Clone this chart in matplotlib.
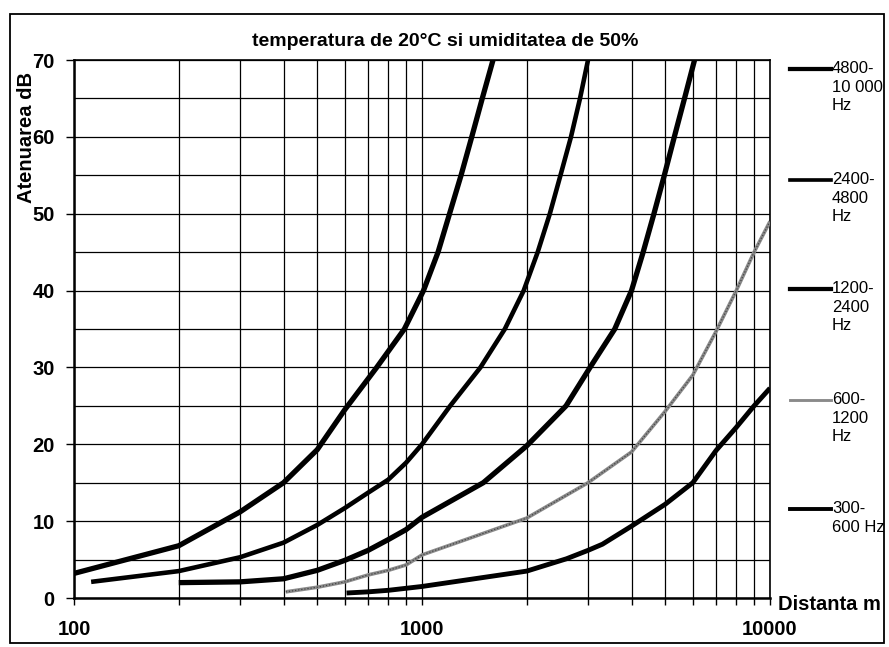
import numpy as np
import matplotlib
matplotlib.use('Agg')
import matplotlib.pyplot as plt
from matplotlib.lines import Line2D
from matplotlib.patches import Rectangle
from matplotlib.ticker import LogLocator, FixedLocator, NullFormatter, FixedFormatter

plt.rcParams['font.family'] = ['Liberation Sans', 'DejaVu Sans']

# attenuation curves (distance in m, attenuation in dB), one per frequency band
dist_4800 = [100, 200, 300, 400, 500, 600, 741, 890, 1010, 1112, 1200, 1295, 1390, 1490, 1600]
att_4800 = [3.2, 6.8, 11.2, 15.0, 19.3, 24.5, 30, 35, 40, 45, 50, 55, 60, 65, 70]

dist_2400 = [112, 200, 300, 400, 500, 600, 700, 800, 900, 1000, 1205, 1472, 1730, 1960, 2150,
             2330, 2500, 2680, 2845, 3000]
att_2400 = [2.1, 3.5, 5.3, 7.2, 9.5, 11.7, 13.7, 15.4, 17.6, 20.0, 25, 30, 35, 40, 45,
            50, 55, 60, 65, 70]

dist_1200 = [200, 300, 400, 500, 600, 700, 800, 900, 1000, 1500, 2000, 2594, 3040, 3580, 4000,
             4320, 4640, 4970, 5310, 5680, 6070]
att_1200 = [2.0, 2.1, 2.5, 3.6, 4.9, 6.2, 7.6, 8.9, 10.5, 15.0, 19.8, 25, 30, 35, 40,
            45, 50, 55, 60, 65, 70]

dist_600 = [406, 500, 600, 700, 800, 900, 1000, 2000, 3000, 4000, 5000, 6000, 7000, 8000, 9000, 10000]
att_600 = [0.8, 1.4, 2.1, 3.0, 3.6, 4.3, 5.6, 10.4, 15.0, 19.0, 24.3, 29.0, 34.7, 40, 45, 49]

dist_300 = [607, 700, 800, 1000, 2000, 2600, 3000, 3300, 4000, 5000, 6000, 7000, 8000, 9000, 10000]
att_300 = [0.65, 0.8, 1.0, 1.5, 3.5, 5.1, 6.2, 7.0, 9.35, 12.2, 15.0, 19.2, 22.2, 25.0, 27.3]

band_labels = ['4800-\n10 000\nHz', '2400-\n4800\nHz', '1200-\n2400\nHz', '600-\n1200\nHz', '300-\n600 Hz']
x_ticks = [100, 1000, 10000]
x_tick_labels = ['100', '1000', '10000']
y_ticks = [0, 10, 20, 30, 40, 50, 60, 70]

W, H = 889, 647
fig = plt.figure(figsize=(W / 100, H / 100), dpi=100)
ax = fig.add_axes([74 / W, 1 - 598 / H, (770 - 74) / W, (598 - 60) / H])

series = [
    (dist_4800, att_4800, dict(color='black', lw=3.8)),
    (dist_2400, att_2400, dict(color='black', lw=3.3)),
    (dist_1200, att_1200, dict(color='black', lw=3.8)),
    (dist_600, att_600, dict(color='#8a8a8a', lw=2.6)),
    (dist_300, att_300, dict(color='black', lw=3.5)),
]
for xs, ys, st in series:
    ax.plot(xs, ys, solid_capstyle='butt', solid_joinstyle='round', zorder=3, **st)
# speckled texture on the grey curve
ax.plot(dist_600, att_600, color='#444444', lw=0.9, ls=(0, (1, 1.5)), zorder=4)

ax.set_xscale('log')
ax.set_xlim(100, 10000)
ax.set_ylim(0, 70)

# grid: every decade step and every 5 dB
ax.xaxis.set_major_locator(FixedLocator(x_ticks))
ax.xaxis.set_major_formatter(FixedFormatter(x_tick_labels))
ax.xaxis.set_minor_locator(LogLocator(base=10, subs=np.arange(2, 10)))
ax.xaxis.set_minor_formatter(NullFormatter())
ax.set_yticks(y_ticks)
ax.set_yticks(np.arange(5, 70, 10), minor=True)
ax.grid(True, which='both', axis='x', color='black', lw=0.9)
ax.grid(True, which='both', axis='y', color='black', lw=0.9)
ax.set_axisbelow(True)

ax.tick_params(axis='x', which='both', direction='out', length=5, width=1, pad=11,
               labelsize=14.5)
ax.tick_params(axis='y', which='major', direction='out', length=6, width=1, pad=8,
               labelsize=14.5)
ax.tick_params(axis='y', which='minor', length=0)
for lbl in ax.get_xticklabels() + ax.get_yticklabels():
    lbl.set_fontweight('bold')

for sp in ax.spines.values():
    sp.set_linewidth(1.2)
ax.spines['left'].set_linewidth(1.8)
ax.spines['bottom'].set_linewidth(1.8)

fig.text(445 / W, 1 - 42 / H, 'temperatura de 20°C si umiditatea de 50%',
         ha='center', va='center', fontsize=14, fontweight='bold')
fig.text(27 / W, 1 - 137 / H, 'Atenuarea dB', rotation=90, ha='center', va='center',
         fontsize=14.5, fontweight='bold')
fig.text(778 / W, 1 - 605 / H, 'Distanta m', ha='left', va='center',
         fontsize=14.5, fontweight='bold')

# legend drawn at the right of the plot
legend_y = [69, 180, 289, 400, 509]
for (xs, ys, st), lab, yy in zip(series, band_labels, legend_y):
    lw = st['lw'] * 0.8
    fig.add_artist(Line2D([790 / W, 831 / W], [1 - yy / H, 1 - yy / H], color=st['color'],
                          lw=lw, transform=fig.transFigure))
    fig.text(832 / W, 1 - (yy - 8) / H, lab, ha='left', va='top', fontsize=12,
             linespacing=1.3)

# outer frame
fig.add_artist(Rectangle((10 / W, 1 - 643 / H), (884 - 10) / W, (643 - 14) / H,
                         transform=fig.transFigure, fill=False, lw=1.3, color='black'))

fig.savefig('out.png', dpi=100)
